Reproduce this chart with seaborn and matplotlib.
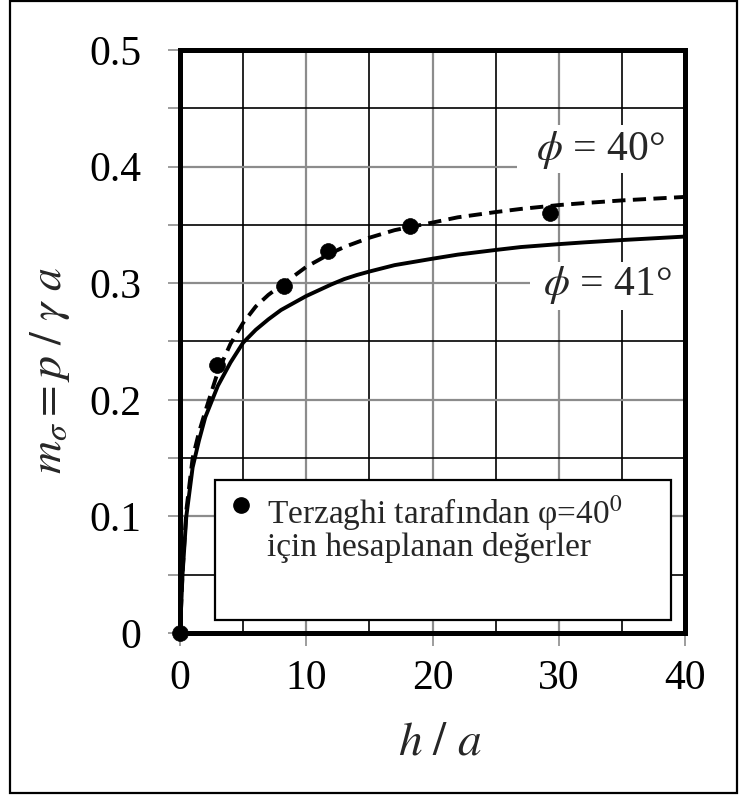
import matplotlib
matplotlib.use("Agg")
import matplotlib.pyplot as plt
from matplotlib.patches import Rectangle
from matplotlib.ticker import MultipleLocator, FixedLocator
import pandas as pd
import seaborn as sns

# Support pressure ratio m_sigma = p / (gamma a) against depth ratio h / a
h_curve = [0, 0.2, 0.5, 1, 1.5, 2, 3, 4, 5, 6, 7, 8, 9, 10, 11, 12, 13, 14, 15,
           17, 20, 22, 25, 27, 30, 32, 35, 37, 40]
m_phi40 = [0, 0.052, 0.105, 0.150, 0.172, 0.190, 0.224, 0.248, 0.266, 0.280,
           0.290, 0.298, 0.306, 0.314, 0.320, 0.326, 0.331, 0.335, 0.339,
           0.3455, 0.352, 0.3565, 0.361, 0.3637, 0.367, 0.3687, 0.371, 0.3722, 0.374]
m_phi41 = [0, 0.050, 0.100, 0.142, 0.165, 0.185, 0.212, 0.232, 0.249, 0.260,
           0.269, 0.277, 0.283, 0.289, 0.294, 0.299, 0.3035, 0.307, 0.310,
           0.3155, 0.321, 0.3245, 0.3285, 0.331, 0.3335, 0.335, 0.337, 0.3382, 0.340]

# Terzaghi's values for phi = 40 deg
h_terzaghi = [0, 2.9, 8.2, 11.7, 18.2, 29.3]
m_terzaghi = [0, 0.230, 0.298, 0.328, 0.349, 0.360]

x_ticks = [0, 10, 20, 30, 40]
y_ticks = [0, 0.1, 0.2, 0.3, 0.4, 0.5]
y_ticklabels = ["0", "0.1", "0.2", "0.3", "0.4", "0.5"]

curve_label_40 = r"$\phi$ = 40°"
curve_label_41 = r"$\phi$ = 41°"
legend_line1 = "Terzaghi tarafından φ=40$^{0}$"
legend_line2 = "için hesaplanan değerler"
x_label = r"$h\ /\ a$"
y_label = r"$m_{\sigma} = p\ /\ \gamma\ a$"

sns.set_theme(style="white")
plt.rcParams["font.family"] = ["Liberation Serif", "DejaVu Serif"]
plt.rcParams["mathtext.fontset"] = "stix"

curves = pd.DataFrame({"h": h_curve, "m40": m_phi40, "m41": m_phi41})
points = pd.DataFrame({"h": h_terzaghi, "m": m_terzaghi})

fig = plt.figure(figsize=(7.47, 7.96), dpi=100)
ax = fig.add_axes([180 / 747, 1 - 633 / 796, 505 / 747, 583 / 796])

# curves
sns.lineplot(data=curves, x="h", y="m40", ax=ax, color="black", lw=2.8,
             zorder=5)
ax.lines[-1].set_dashes((3.4, 1.9))
ax.lines[-1].set_dash_capstyle("butt")
sns.lineplot(data=curves, x="h", y="m41", ax=ax, color="black", lw=2.8,
             zorder=5)
ax.lines[-1].set_solid_joinstyle("round")
sns.scatterplot(data=points, x="h", y="m", ax=ax, color="black", s=130,
                edgecolor="black", linewidth=0.5, zorder=6, clip_on=False)

ax.set_xlim(0, 40)
ax.set_ylim(0, 0.5)

# grid: grey major lines, black minor lines
ax.xaxis.set_major_locator(FixedLocator(x_ticks))
ax.xaxis.set_minor_locator(MultipleLocator(5))
ax.yaxis.set_major_locator(FixedLocator(y_ticks))
ax.yaxis.set_minor_locator(MultipleLocator(0.05))
ax.set_yticklabels(y_ticklabels)
ax.set_xticklabels([str(v) for v in x_ticks])
ax.grid(True, which="major", color="#8c8c8c", lw=1.6, zorder=0)
ax.grid(True, which="minor", color="black", lw=1.2, zorder=0)
ax.set_axisbelow(True)

ax.tick_params(axis="both", which="both", direction="out", color="#8c8c8c",
               width=1.2, length=9, labelsize=30, labelcolor="black")
ax.tick_params(axis="x", which="minor", length=0)
ax.tick_params(axis="y", which="both", pad=19, left=True)
ax.tick_params(axis="x", which="major", pad=10, bottom=True)

for sp in ax.spines.values():
    sp.set_visible(True)
    sp.set_color("black")
    sp.set_linewidth(3.6)
    sp.set_zorder(7)

ax.set_xlabel(x_label, fontsize=34)
ax.set_ylabel(y_label, fontsize=33)
ax.xaxis.set_label_coords(0.515, -0.189)
ax.yaxis.set_label_coords(-0.257, 0.451)
ax.xaxis.label.set_va("center")
ax.yaxis.label.set_va("center")

# white masks behind the curve labels
for (x0, y0, w, hgt) in [(0.667, 0.789, 0.329, 0.082), (0.693, 0.554, 0.303, 0.082)]:
    ax.add_patch(Rectangle((x0, y0), w, hgt, transform=ax.transAxes,
                           facecolor="white", edgecolor="none", zorder=3))
ax.text(0.832, 0.828, curve_label_40, transform=ax.transAxes, fontsize=30,
        ha="center", va="center", zorder=8)
ax.text(0.846, 0.597, curve_label_41, transform=ax.transAxes, fontsize=30,
        ha="center", va="center", zorder=8)

# legend box
ax.add_patch(Rectangle((0.069, 0.0223), 0.903, 0.2397, transform=ax.transAxes,
                       facecolor="white", edgecolor="black", lw=1.6, zorder=8))
ax.plot([0.121], [0.2196], transform=ax.transAxes, marker="o", ms=11,
        color="black", zorder=9, clip_on=False)
ax.text(0.172, 0.206, legend_line1, transform=ax.transAxes, fontsize=24,
        ha="left", va="center", zorder=9)
ax.text(0.172, 0.146, legend_line2, transform=ax.transAxes, fontsize=24,
        ha="left", va="center", zorder=9)

# outer frame
fig.patches.append(Rectangle((10 / 747, 3 / 796), 727 / 747, 792 / 796,
                             transform=fig.transFigure, fill=False,
                             edgecolor="black", lw=1.6))

fig.savefig("out.png", dpi=100)
